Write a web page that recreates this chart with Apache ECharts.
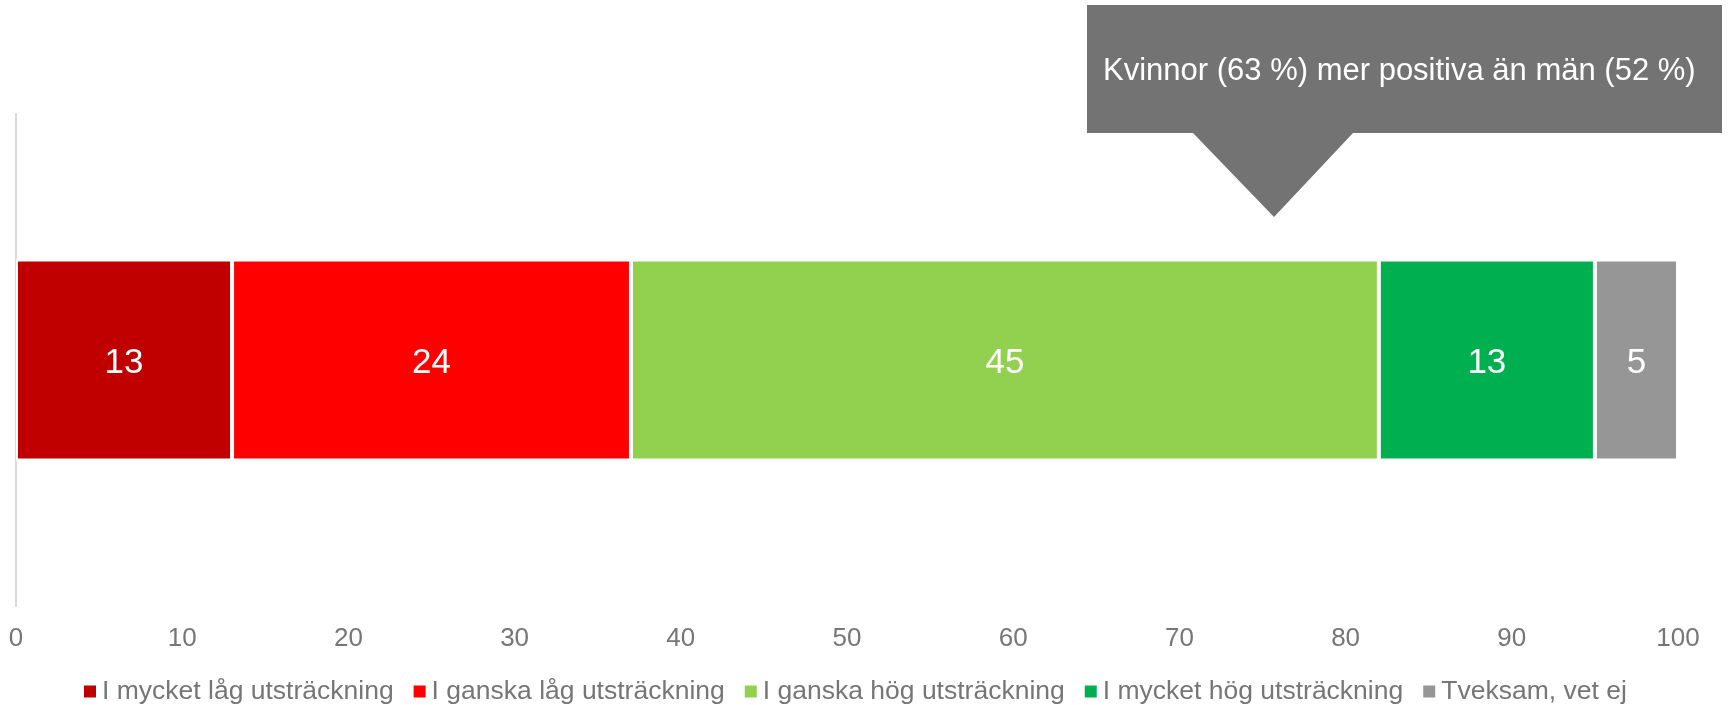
<!DOCTYPE html>
<html>
<head>
<meta charset="utf-8">
<script src="https://cdn.jsdelivr.net/npm/echarts@6/dist/echarts.min.js"></script>
<style>
  html, body { margin: 0; padding: 0; background: #fff; }
  #chart { width: 1729px; height: 705px; }
</style>
</head>
<body>
<div id="chart"></div>
<script>
// svarsalternativ och andelar (%)
var seriesNames = ['I mycket låg utsträckning', 'I ganska låg utsträckning', 'I ganska hög utsträckning', 'I mycket hög utsträckning', 'Tveksam, vet ej'];
var seriesValues = [13, 24, 45, 13, 5];
var seriesColors = ['#C00000', '#FF0000', '#92D050', '#00B050', '#969696'];
var categories = [''];
var calloutText = 'Kvinnor (63 %) mer positiva än män (52 %)';

var font = '"Liberation Sans", Arial, sans-serif';
var chart = echarts.init(document.getElementById('chart'));

var series = seriesNames.map(function (name, i) {
  return {
    name: name,
    type: 'bar',
    stack: 'total',
    barWidth: 201,
    data: [seriesValues[i]],
    itemStyle: {
      color: seriesColors[i],
      borderColor: '#fff',
      borderWidth: 2
    },
    label: {
      show: true,
      position: 'inside',
      offset: [0, 3],
      color: '#fff',
      fontSize: 35,
      fontFamily: font
    }
  };
});

var option = {
  animation: false,
  grid: { left: 16, right: 51, top: 114, bottom: 99 },
  legend: {
    data: seriesNames,
    top: 673,
    left: 77,
    padding: 5,
    itemWidth: 14,
    itemHeight: 14,
    itemGap: 18,
    icon: 'rect',
    textStyle: { color: '#767676', fontSize: 26.5, fontFamily: font }
  },
  xAxis: {
    type: 'value',
    min: 0,
    max: 100,
    interval: 10,
    axisLine: { show: false },
    axisTick: { show: false },
    splitLine: { show: false },
    axisLabel: { color: '#767676', fontSize: 26, fontFamily: font, margin: 20 }
  },
  yAxis: {
    type: 'category',
    data: categories,
    axisLine: { show: true, lineStyle: { color: '#D9D9D9', width: 2 } },
    axisTick: { show: false },
    axisLabel: { show: false }
  },
  graphic: [
    {
      type: 'polygon',
      shape: {
        points: [[1087, 5], [1722, 5], [1722, 133], [1353, 133], [1274, 217], [1193, 133], [1087, 133]]
      },
      style: { fill: '#737373' }
    },
    {
      type: 'text',
      left: 1103,
      top: 56,
      style: { text: calloutText, fill: '#fff', fontSize: 31, fontFamily: font }
    }
  ],
  series: series
};

chart.setOption(option);
</script>
</body>
</html>
